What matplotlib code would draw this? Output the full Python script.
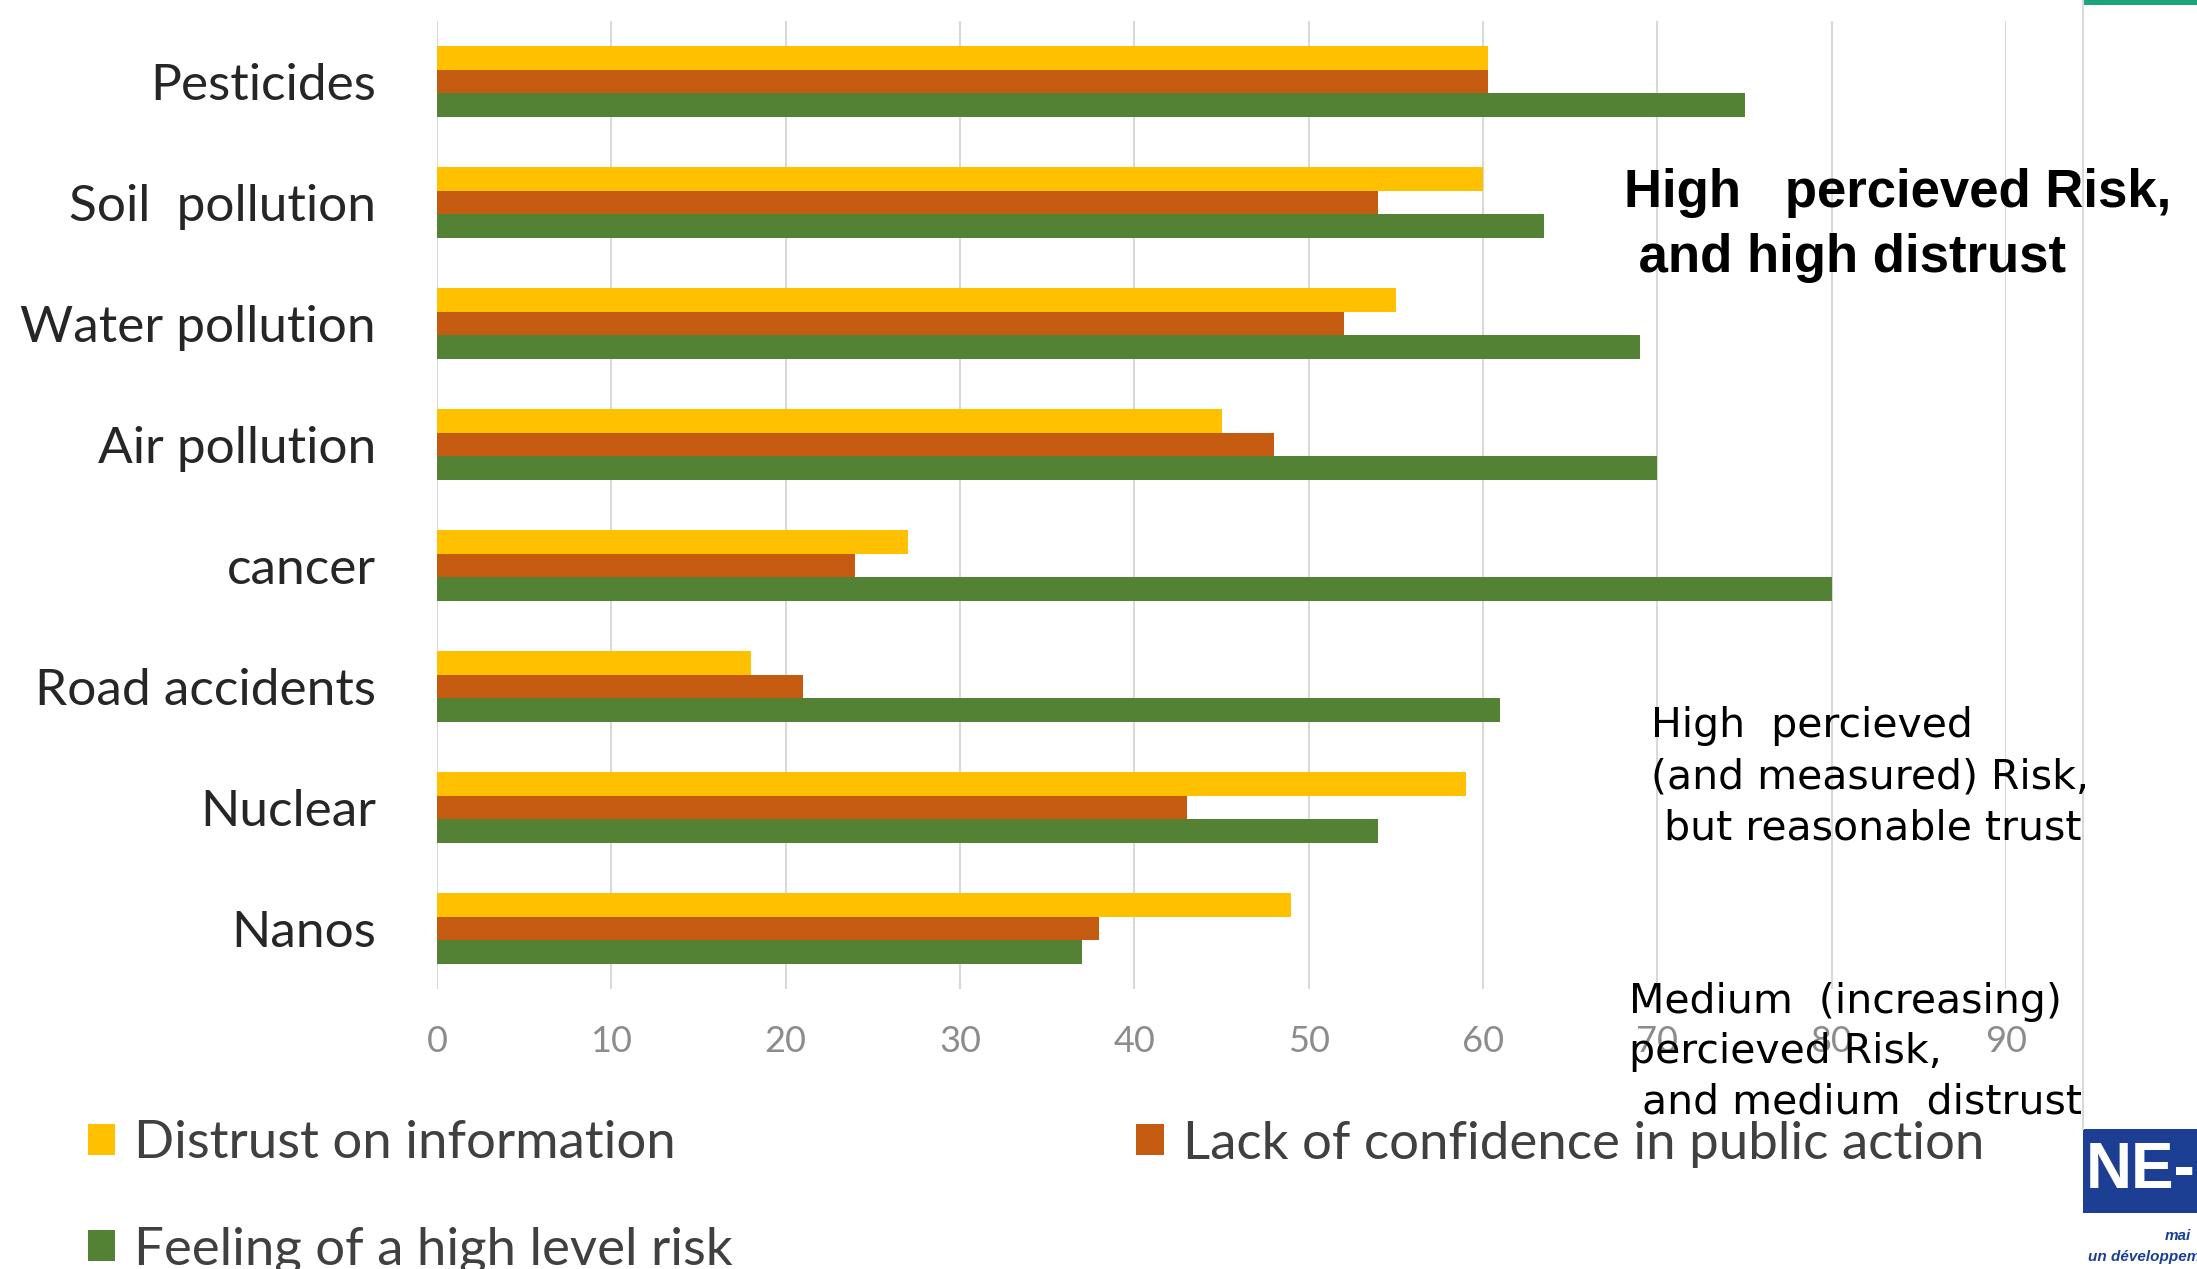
import matplotlib as mpl
import matplotlib.pyplot as plt
from matplotlib.patches import Patch, Rectangle
from matplotlib.lines import Line2D

CATEGORIES = ["Pesticides", "Soil  pollution", "Water pollution", "Air pollution",
              "cancer", "Road accidents", "Nuclear", "Nanos"]
DISTRUST = [60.3, 60, 55, 45, 27, 18, 59, 49]
LACK_CONF = [60.3, 54, 52, 48, 24, 21, 43, 38]
HIGH_RISK = [75, 63.5, 69, 70, 80, 61, 54, 37]
X_TICKS = [0, 10, 20, 30, 40, 50, 60, 70, 80, 90]

SERIES = ["Distrust on information", "Lack of confidence in public action",
          "Feeling of a high level risk"]
COLORS = ["#FFC000", "#C55A11", "#548235"]

W, H = 2197, 1269


def fx(px):
    return px / W


def fy(py):
    return 1 - py / H


def main():
    mpl.rcParams["font.family"] = ["Lato", "DejaVu Sans"]

    fig = plt.figure(figsize=(W / 100, H / 100), dpi=100)
    ax = fig.add_axes([fx(437), fy(989), fx(2006) - fx(437), fy(21) - fy(989)])

    bh = 0.193
    ypos = list(range(len(CATEGORIES)))
    for k, vals in enumerate([DISTRUST, LACK_CONF, HIGH_RISK]):
        ax.barh([y + (k - 1) * bh for y in ypos], vals, height=bh,
                color=COLORS[k], edgecolor="none", zorder=3)

    ax.set_xlim(0, 90)
    ax.set_ylim(len(CATEGORIES) - 0.5, -0.5)
    ax.set_xticks(X_TICKS)
    ax.set_yticks(ypos)
    ax.set_yticklabels(CATEGORIES, fontsize=37, color="#262626")
    ax.tick_params(axis="y", length=0, pad=44)
    ax.tick_params(axis="x", length=0, pad=26, labelsize=26, labelcolor="#8c8c8c")
    ax.grid(axis="x", color="#d9d9d9", linewidth=1.5, zorder=0)
    ax.grid(axis="y", visible=False)
    for side in ["top", "right", "left", "bottom"]:
        ax.spines[side].set_visible(False)

    # legend, row-wise order
    handles = [Patch(facecolor=c, edgecolor="none") for c in COLORS]
    order = [0, 2, 1]
    fig.legend([handles[i] for i in order], [SERIES[i] for i in order],
               ncol=2, loc="upper left", bbox_to_anchor=(fx(40), fy(1073)),
               frameon=False, fontsize=38, handlelength=0.53, handleheight=0.53,
               handletextpad=0.35, columnspacing=7.65, labelspacing=1.12,
               labelcolor="#404040")

    # annotations
    ann1 = [("High   percieved Risk,", 1624, 207), (" and high distrust", 1624, 272)]
    for s, x, y in ann1:
        fig.text(fx(x), fy(y), s, fontsize=38, fontweight="bold",
                 family="Liberation Sans", va="baseline", ha="left", color="black")
    ann2 = [("High  percieved", 1651, 737), ("(and measured) Risk,", 1651, 789),
            (" but reasonable trust", 1651, 840)]
    ann3 = [("Medium  (increasing)", 1629, 1013), ("percieved Risk,", 1629, 1063),
            (" and medium  distrust", 1629, 1114)]
    for s, x, y in ann2 + ann3:
        fig.text(fx(x), fy(y), s, fontsize=29.5, family="DejaVu Sans",
                 va="baseline", ha="left", color="black")

    # slide decorations: border line, top bar, logo
    fig.add_artist(Line2D([fx(2083), fx(2083)], [fy(0), fy(1129)],
                          color="#d9d9d9", linewidth=1.5))
    fig.add_artist(Rectangle((fx(2083), fy(5)), fx(2197) - fx(2083), fy(0) - fy(5),
                             facecolor="#1ea37f", edgecolor="none"))
    fig.add_artist(Rectangle((fx(2083), fy(1213)), fx(2197) - fx(2083),
                             fy(1129) - fy(1213), facecolor="#1c3f94",
                             edgecolor="none"))
    fig.text(fx(2086), fy(1171), "NE-", fontsize=46, fontweight="bold",
             family="Liberation Sans", color="white", va="center", ha="left")
    fig.text(fx(2165), fy(1236), "mai", fontsize=11, fontweight="bold",
             style="italic", family="Liberation Sans", color="#1c3f94",
             va="center", ha="left")
    fig.text(fx(2088), fy(1257), "un développement", fontsize=11,
             fontweight="bold", style="italic", family="Liberation Sans",
             color="#1c3f94", va="center", ha="left")

    fig.savefig("out.png", dpi=100)
    plt.close(fig)


if __name__ == "__main__":
    main()
